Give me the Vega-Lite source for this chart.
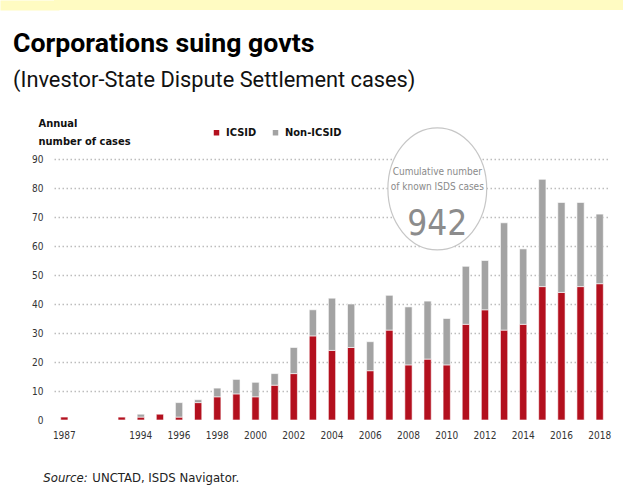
{
  "$schema": "https://vega.github.io/schema/vega-lite/v6.json",
  "padding": {"left": -3, "top": -3, "right": 0, "bottom": 0},
  "background": "white",
  "spacing": 25,
  "config": {
    "view": {"stroke": null},
    "font": "DejaVu Sans Condensed, Roboto"
  },
  "datasets": {
    "isds": [
      {"year": "1987", "type": "ICSID", "cases": 1},
      {"year": "1993", "type": "ICSID", "cases": 1},
      {"year": "1994", "type": "ICSID", "cases": 1},
      {"year": "1994", "type": "Non-ICSID", "cases": 1},
      {"year": "1995", "type": "ICSID", "cases": 2},
      {"year": "1996", "type": "ICSID", "cases": 1},
      {"year": "1996", "type": "Non-ICSID", "cases": 5},
      {"year": "1997", "type": "ICSID", "cases": 6},
      {"year": "1997", "type": "Non-ICSID", "cases": 1},
      {"year": "1998", "type": "ICSID", "cases": 8},
      {"year": "1998", "type": "Non-ICSID", "cases": 3},
      {"year": "1999", "type": "ICSID", "cases": 9},
      {"year": "1999", "type": "Non-ICSID", "cases": 5},
      {"year": "2000", "type": "ICSID", "cases": 8},
      {"year": "2000", "type": "Non-ICSID", "cases": 5},
      {"year": "2001", "type": "ICSID", "cases": 12},
      {"year": "2001", "type": "Non-ICSID", "cases": 4},
      {"year": "2002", "type": "ICSID", "cases": 16},
      {"year": "2002", "type": "Non-ICSID", "cases": 9},
      {"year": "2003", "type": "ICSID", "cases": 29},
      {"year": "2003", "type": "Non-ICSID", "cases": 9},
      {"year": "2004", "type": "ICSID", "cases": 24},
      {"year": "2004", "type": "Non-ICSID", "cases": 18},
      {"year": "2005", "type": "ICSID", "cases": 25},
      {"year": "2005", "type": "Non-ICSID", "cases": 15},
      {"year": "2006", "type": "ICSID", "cases": 17},
      {"year": "2006", "type": "Non-ICSID", "cases": 10},
      {"year": "2007", "type": "ICSID", "cases": 31},
      {"year": "2007", "type": "Non-ICSID", "cases": 12},
      {"year": "2008", "type": "ICSID", "cases": 19},
      {"year": "2008", "type": "Non-ICSID", "cases": 20},
      {"year": "2009", "type": "ICSID", "cases": 21},
      {"year": "2009", "type": "Non-ICSID", "cases": 20},
      {"year": "2010", "type": "ICSID", "cases": 19},
      {"year": "2010", "type": "Non-ICSID", "cases": 16},
      {"year": "2011", "type": "ICSID", "cases": 33},
      {"year": "2011", "type": "Non-ICSID", "cases": 20},
      {"year": "2012", "type": "ICSID", "cases": 38},
      {"year": "2012", "type": "Non-ICSID", "cases": 17},
      {"year": "2013", "type": "ICSID", "cases": 31},
      {"year": "2013", "type": "Non-ICSID", "cases": 37},
      {"year": "2014", "type": "ICSID", "cases": 33},
      {"year": "2014", "type": "Non-ICSID", "cases": 26},
      {"year": "2015", "type": "ICSID", "cases": 46},
      {"year": "2015", "type": "Non-ICSID", "cases": 37},
      {"year": "2016", "type": "ICSID", "cases": 44},
      {"year": "2016", "type": "Non-ICSID", "cases": 31},
      {"year": "2017", "type": "ICSID", "cases": 46},
      {"year": "2017", "type": "Non-ICSID", "cases": 29},
      {"year": "2018", "type": "ICSID", "cases": 47},
      {"year": "2018", "type": "Non-ICSID", "cases": 24}
    ]
  },
  "vconcat": [
    {
      "width": 569,
      "height": 10,
      "view": {"fill": "#fffbc2", "stroke": null},
      "title": {
        "text": "Corporations suing govts",
        "subtitle": "(Investor-State Dispute Settlement cases)",
        "orient": "bottom",
        "anchor": "start",
        "frame": "group",
        "dx": -41,
        "offset": 19,
        "font": "Roboto",
        "fontSize": 26.7,
        "fontWeight": "bold",
        "color": "#000000",
        "subtitleFont": "Roboto",
        "subtitleFontSize": 21.8,
        "subtitleColor": "#111111",
        "subtitlePadding": 12
      },
      "data": {"values": [{}]},
      "mark": {"type": "text", "text": ""},
      "encoding": {
        "y": {
          "datum": 0.5,
          "type": "quantitative",
          "scale": {"domain": [0, 1]},
          "axis": {
            "title": null,
            "values": [0.5],
            "labels": false,
            "domain": false,
            "grid": false,
            "ticks": true,
            "tickSize": 49,
            "tickWidth": 10,
            "tickCap": "square",
            "tickColor": "#fffbc2",
            "minExtent": 0
          }
        }
      }
    },
    {
      "width": 556,
      "height": 261,
      "layer": [
        {
          "data": {"name": "isds"},
          "mark": {"type": "bar", "stroke": "white", "strokeWidth": 0.6},
          "encoding": {
            "x": {
              "field": "year",
              "type": "ordinal",
              "scale": {
                "domain": ["1987", "g1", "g2", "1993", "1994", "1995", "1996", "1997", "1998", "1999", "2000", "2001", "2002", "2003", "2004", "2005", "2006", "2007", "2008", "2009", "2010", "2011", "2012", "2013", "2014", "2015", "2016", "2017", "2018"],
                "paddingInner": 0.62,
                "paddingOuter": 0.35
              },
              "axis": {
                "title": null,
                "values": ["1987", "1994", "1996", "1998", "2000", "2002", "2004", "2006", "2008", "2010", "2012", "2014", "2016", "2018"],
                "labelAngle": 0,
                "labelAlign": "center",
                "labelFontSize": 10,
                "labelColor": "#333333",
                "labelPadding": 10,
                "ticks": false,
                "domain": false,
                "grid": false
              }
            },
            "y": {
              "aggregate": "sum",
              "field": "cases",
              "type": "quantitative",
              "stack": "zero",
              "scale": {"domain": [0, 90], "nice": false},
              "axis": {
                "title": ["Annual", "number of cases"],
                "titleAngle": 0,
                "titleAlign": "left",
                "titleBaseline": "alphabetic",
                "titleX": -16,
                "titleY": -33,
                "titleFontSize": 11,
                "titleFontWeight": "bold",
                "titleColor": "#111111",
                "titleLineHeight": 18,
                "values": [0, 10, 20, 30, 40, 50, 60, 70, 80, 90],
                "tickCount": 10,
                "labelOverlap": false,
                "labelFontSize": 10,
                "labelColor": "#333333",
                "labelPadding": 11,
                "domain": false,
                "ticks": false,
                "grid": true,
                "gridColor": "#bdbdbd",
                "gridDash": [1.5, 2.5],
                "gridWidth": 1.5,
                "gridOpacity": {"condition": {"test": "datum.value === 0", "value": 0}, "value": 1},
                "minExtent": 51
              }
            },
            "color": {
              "field": "type",
              "type": "nominal",
              "scale": {"domain": ["ICSID", "Non-ICSID"], "range": ["#b3101e", "#a3a3a3"]},
              "legend": {
                "title": null,
                "orient": "none",
                "direction": "horizontal",
                "legendX": 157,
                "legendY": 127,
                "symbolType": "square",
                "symbolSize": 30,
                "symbolStrokeWidth": 0,
                "labelFontSize": 11,
                "labelFontWeight": "bold",
                "labelColor": "#111111",
                "labelOffset": 4,
                "columnPadding": 13,
                "padding": 0
              }
            },
            "order": {"field": "type", "sort": "ascending"}
          }
        },
        {
          "data": {"values": [{}]},
          "mark": {
            "type": "point",
            "shape": "M-0.81,0A0.81,1,0,1,1,0.81,0A0.81,1,0,1,1,-0.81,0Z",
            "size": 14884,
            "filled": true,
            "fill": "white",
            "stroke": "#c6c6c6",
            "strokeWidth": 1.2,
            "opacity": 1,
            "xOffset": 9.7,
            "clip": false
          },
          "encoding": {
            "x": {"datum": "2009", "type": "ordinal"},
            "y": {"datum": 79.7, "type": "quantitative"}
          }
        },
        {
          "data": {"values": [{}]},
          "mark": {"type": "text", "text": "Cumulative number", "align": "center", "baseline": "alphabetic", "dx": 9.7, "fontSize": 10, "color": "#8a8a8a"},
          "encoding": {
            "x": {"datum": "2009", "type": "ordinal"},
            "y": {"datum": 84.5, "type": "quantitative"}
          }
        },
        {
          "data": {"values": [{}]},
          "mark": {"type": "text", "text": "of known ISDS cases", "align": "center", "baseline": "alphabetic", "dx": 9.7, "fontSize": 10, "color": "#8a8a8a"},
          "encoding": {
            "x": {"datum": "2009", "type": "ordinal"},
            "y": {"datum": 79.3, "type": "quantitative"}
          }
        },
        {
          "data": {"values": [{}]},
          "mark": {"type": "text", "text": "942", "align": "center", "baseline": "alphabetic", "dx": 9.7, "fontSize": 35, "color": "#8c8c8c"},
          "encoding": {
            "x": {"datum": "2009", "type": "ordinal"},
            "y": {"datum": 63.8, "type": "quantitative"}
          }
        },
        {
          "data": {"values": [{}]},
          "mark": {"type": "text", "text": "Source:", "align": "left", "baseline": "alphabetic", "dx": -21, "fontSize": 13, "fontStyle": "italic", "color": "#222222"},
          "encoding": {
            "x": {"datum": "1987", "type": "ordinal"},
            "y": {"datum": -21.4, "type": "quantitative"}
          }
        },
        {
          "data": {"values": [{}]},
          "mark": {"type": "text", "text": "UNCTAD, ISDS Navigator.", "align": "left", "baseline": "alphabetic", "dx": 28, "fontSize": 13, "color": "#222222"},
          "encoding": {
            "x": {"datum": "1987", "type": "ordinal"},
            "y": {"datum": -21.4, "type": "quantitative"}
          }
        }
      ]
    }
  ]
}
